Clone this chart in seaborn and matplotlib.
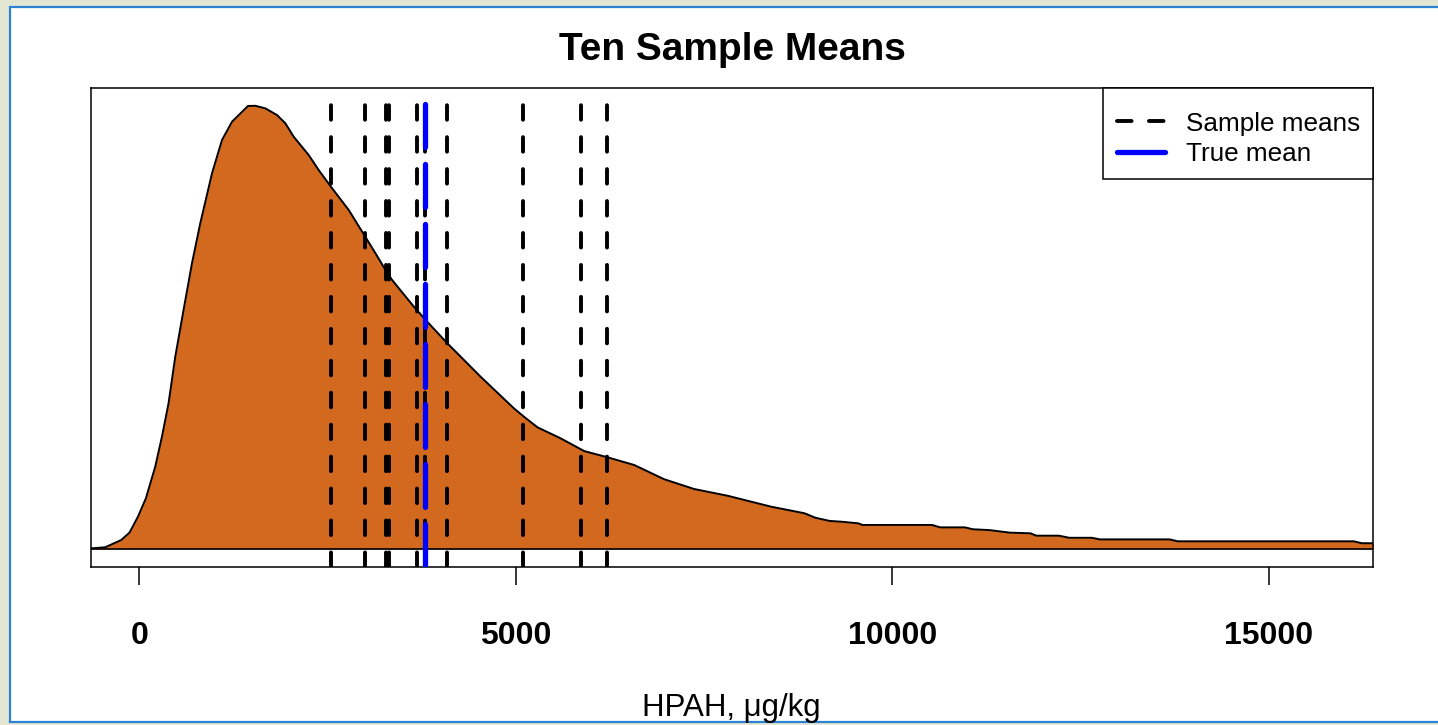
import numpy as np
import pandas as pd
import matplotlib
matplotlib.use("Agg")
import matplotlib.pyplot as plt
from matplotlib.lines import Line2D
from matplotlib.patches import Rectangle
import seaborn as sns

# ---- data ----
hpah_x = [-700, -629, -452, -239, -129, -17, 89, 213, 302, 390, 479, 589, 701, 811,
          967, 1100, 1233, 1445, 1543, 1676, 1831, 1941, 2052, 2251, 2384, 2563,
          2783, 2961, 3138, 3271, 3360, 3648, 3826, 4092, 4535, 4977, 5110, 5289,
          5598, 5908, 6219, 6573, 6972, 7371, 7815, 8391, 8834, 8980, 9170, 9334,
          9551, 9605, 10529, 10638, 10964, 11073, 11290, 11563, 11835, 11915,
          12216, 12351, 12650, 12758, 13684, 13791, 16130, 16237, 16700]
density_e4 = [0.003, 0.0044, 0.0106, 0.056, 0.102, 0.201, 0.316, 0.513, 0.700,
              0.909, 1.199, 1.490, 1.782, 2.031, 2.343, 2.551, 2.665, 2.763, 2.764,
              2.748, 2.706, 2.655, 2.571, 2.457, 2.363, 2.249, 2.114, 1.979, 1.844,
              1.740, 1.677, 1.511, 1.417, 1.283, 1.074, 0.877, 0.825, 0.759, 0.690,
              0.611, 0.572, 0.524, 0.435, 0.374, 0.332, 0.264, 0.223, 0.195, 0.175,
              0.170, 0.160, 0.150, 0.150, 0.135, 0.135, 0.123, 0.118, 0.102, 0.098,
              0.083, 0.083, 0.070, 0.070, 0.060, 0.060, 0.048, 0.048, 0.036, 0.036]
sample_means = [2550, 3000, 3280, 3320, 3690, 3795, 4090, 5095, 5865, 6210]
true_mean = 3800
x_ticks = [0, 5000, 10000, 15000]
x_tick_labels = ["0", "5000", "10000", "15000"]
title = "Ten Sample Means"
x_label = "HPAH, \u03bcg/kg"
legend_labels = ["Sample means", "True mean"]

df = pd.DataFrame({"x": hpah_x, "density": np.array(density_e4) * 1e-4})

# ---- style ----
sns.set_theme(style="white")
plt.rcParams["font.family"] = ["Liberation Sans", "DejaVu Sans"]
plt.rcParams["lines.scale_dashes"] = False
plt.rcParams["text.color"] = "black"
plt.rcParams["xtick.color"] = "black"
plt.rcParams["axes.labelcolor"] = "black"

W, H = 1438, 725
fig = plt.figure(figsize=(W / 100, H / 100), dpi=100)
fig.patch.set_facecolor("#E4E6D4")
panel = Rectangle((10 / W, 3 / H), 1.2, (722 - 7) / H, transform=fig.transFigure,
                  facecolor="white", edgecolor="#2C83D3", linewidth=1.6, zorder=-10)
fig.patches.append(panel)

ax = fig.add_axes([91 / W, 1 - 567 / H, (1373 - 91) / W, (567 - 88) / H])
ax.set_zorder(5)
ax.set_facecolor("white")

ax.fill_between(df["x"], 0, df["density"], color="#D2691E", linewidth=0, zorder=1)
sns.lineplot(data=df, x="x", y="density", color="black", linewidth=1.4, ax=ax,
             zorder=2, sort=False)
ax.axhline(0, color="black", linewidth=1.2, zorder=2)

for m in sample_means:
    ax.axvline(m, color="black", linewidth=2.8, dashes=(10.5, 12.5),
               dash_capstyle="round", zorder=3)
ax.axvline(true_mean, color="#0000FF", linewidth=3.8, dashes=(31, 12.2),
           dash_capstyle="round", zorder=4)

ax.set_xlim(-640, 16385)
ax.set_ylim(-0.1122e-4, 2.875e-4)
ax.set_xticks(x_ticks)
ax.set_xticklabels(x_tick_labels, fontsize=23, fontweight="bold")
ax.set_yticks([])
ax.set_xlabel("")
ax.set_ylabel("")
ax.tick_params(axis="x", direction="out", length=13, width=1.1, color="black",
               labelcolor="black", pad=26, bottom=True)
for s in ax.spines.values():
    s.set_visible(True)
    s.set_color("black")
    s.set_linewidth(1.1)

handles = [Line2D([0], [0], color="black", linewidth=2.8, dashes=(10.5, 12.5),
                  dash_capstyle="round"),
           Line2D([0], [0], color="#0000FF", linewidth=3.8, solid_capstyle="round")]
leg = ax.legend(handles, legend_labels, loc="upper right", fontsize=18.8,
                frameon=True, fancybox=False, framealpha=1, edgecolor="black",
                borderaxespad=0, handlelength=1.85, handletextpad=0.8,
                borderpad=0.5, labelspacing=0.25, title=" ", title_fontsize=3)
leg.get_frame().set_linewidth(1.1)
for t in leg.get_texts():
    t.set_color("black")

fig.text(732 / W, 1 - 50 / H, title, ha="center", va="center", fontsize=28,
         fontweight="bold", color="black")
fig.text(731 / W, 1 - 716 / H, x_label, ha="center", va="baseline", fontsize=22.5,
         color="black")

fig.savefig("out.png", dpi=100, facecolor=fig.get_facecolor())
